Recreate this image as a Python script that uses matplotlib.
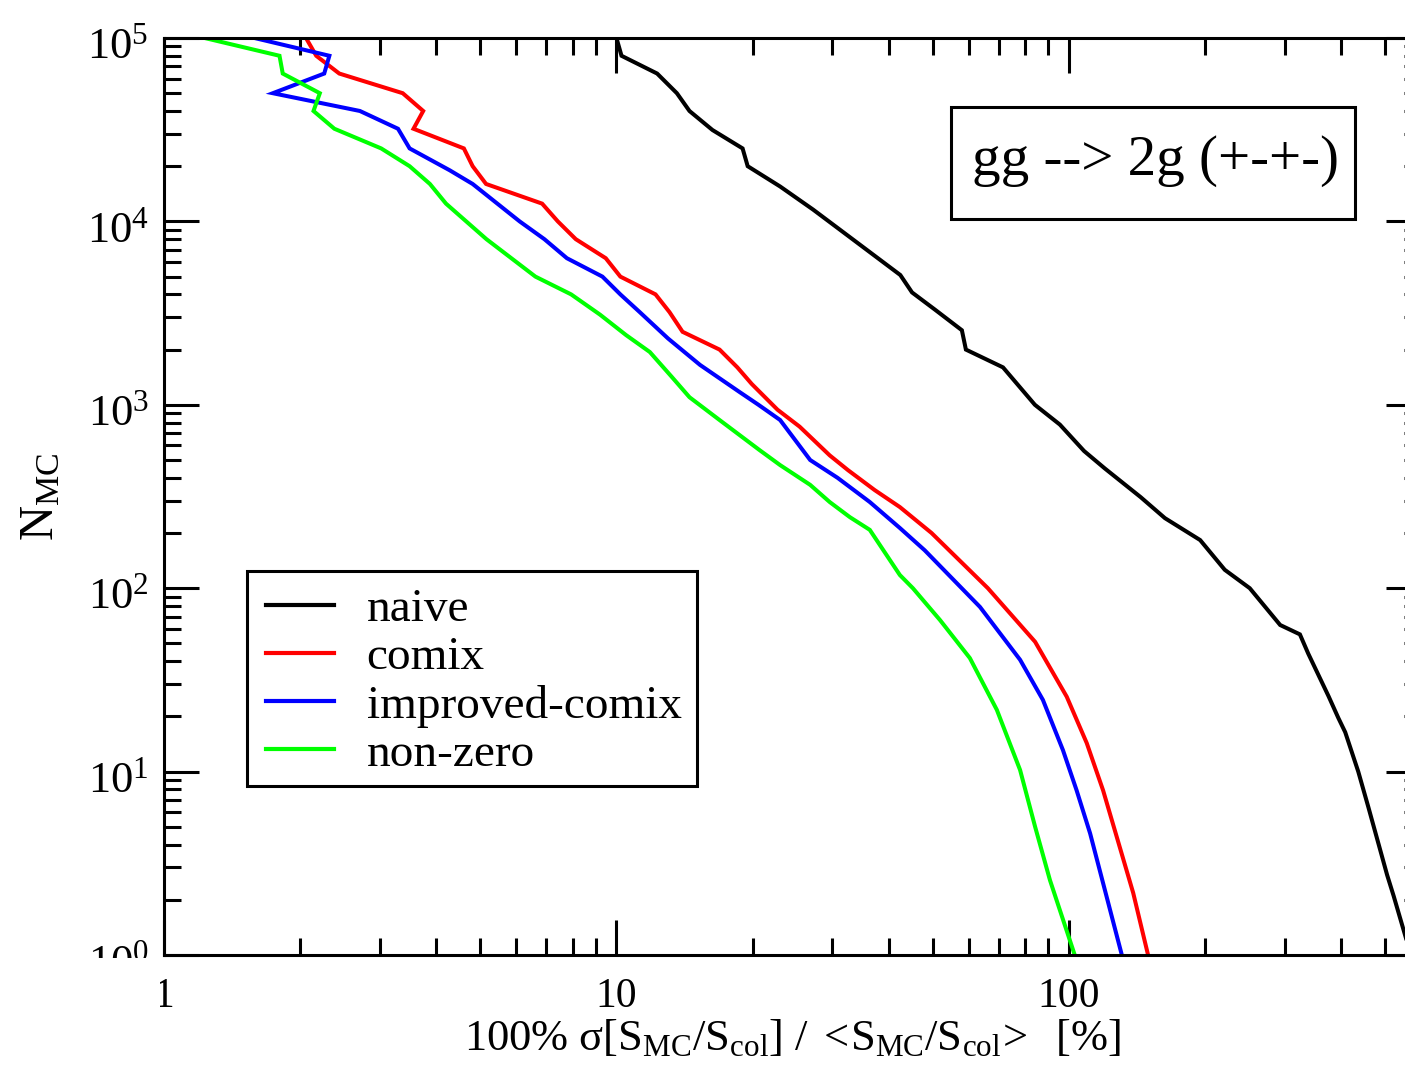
import numpy as np
import matplotlib
matplotlib.use("Agg")
import matplotlib.pyplot as plt
from matplotlib.ticker import LogLocator, FixedLocator, FixedFormatter, NullFormatter
from matplotlib.patches import Rectangle
from matplotlib.lines import Line2D
from matplotlib.transforms import ScaledTranslation

plt.rcParams["font.family"] = ["Liberation Serif", "DejaVu Serif"]
plt.rcParams["mathtext.fontset"] = "custom"
plt.rcParams["mathtext.rm"] = "Liberation Serif"
plt.rcParams["mathtext.it"] = "Liberation Serif:italic"
plt.rcParams["mathtext.bf"] = "Liberation Serif:bold"

# relative spread [%] vs. number of Monte Carlo points
naive_x = [10.0, 10.26, 12.3, 13.6, 14.5, 16.3, 19.0, 19.5, 23.0, 27.2, 31.2, 36.3, 42.4,
           45.0, 50.6, 58.0, 59.2, 71.5, 84.1, 95.5, 108, 120, 144, 163, 195, 221, 251,
           293, 324, 338, 375, 394, 408, 436, 459, 505, 522, 551, 570]
naive_n = [1e5, 80000, 64000, 50000, 40000, 31500, 25000, 20000, 15500, 11600, 9000, 6800, 5100,
           4100, 3300, 2550, 2000, 1600, 1000, 780, 560, 450, 314, 241, 183, 126, 100,
           63, 56, 44, 25.7, 19.6, 16.4, 10.0, 6.4, 2.73, 2.1, 1.33, 1.0]

comix_x = [2.06, 2.17, 2.44, 3.37, 3.74, 3.56, 4.60, 4.81, 5.15, 6.85, 7.42, 8.13, 9.47, 10.2,
           12.2, 13.1, 14.0, 16.9, 18.5, 19.9, 22.7, 25.4, 29.6, 32.5, 37.2, 42.3, 49.7,
           66.2, 84.2, 98.9, 109.5, 119, 138.7, 149.6]
comix_n = [1e5, 80000, 64000, 50000, 40000, 32000, 25000, 20000, 16000, 12500, 10000, 8000, 6300, 5000,
           4000, 3200, 2500, 2000, 1600, 1300, 940, 760, 530, 440, 343, 277, 200,
           100, 51, 25.6, 14.3, 7.9, 2.18, 1.0]

improved_x = [1.585, 2.32, 2.26, 1.74, 2.71, 3.29, 3.49, 4.28, 4.81, 6.11, 6.93, 7.77, 9.31, 10.2,
              11.26, 13.0, 15.3, 18.7, 20.6, 23.0, 26.8, 30.8, 36.3, 42.3, 48.0,
              63.6, 78.0, 87.6, 97.0, 104, 111.4, 130.9]
improved_n = [1e5, 80000, 64000, 50000, 40000, 32000, 25000, 19000, 16000, 10000, 8000, 6300, 5000, 4000,
              3200, 2300, 1650, 1175, 1000, 826, 500, 400, 295, 213, 161,
              79, 40.7, 24.6, 13.1, 7.9, 4.6, 1.0]

nonzero_x = [1.23, 1.80, 1.83, 2.21, 2.14, 2.38, 3.02, 3.49, 3.87, 4.20, 5.16, 6.62, 7.94,
             9.2, 10.5, 11.85, 13.25, 14.5, 16.9, 20.7, 23.0, 26.8, 29.6, 32.8, 36.3,
             42.3, 45.2, 51.9, 60.4, 69.3, 78.0, 84.2, 90.8, 103]
nonzero_n = [1e5, 80000, 64000, 50000, 40000, 32000, 25000, 20000, 16000, 12500, 8000, 5000, 4000,
             3100, 2400, 1940, 1420, 1100, 826, 567, 469, 366, 295, 244, 208,
             118, 100, 67, 41.6, 21.7, 10.2, 5.0, 2.56, 1.0]

series = [
    ("naive", naive_x, naive_n, "black"),
    ("comix", comix_x, comix_n, "#ff0000"),
    ("improved-comix", improved_x, improved_n, "#0000ff"),
    ("non-zero", nonzero_x, nonzero_n, "#00ff00"),
]

W, H = 1405, 1068
fig = plt.figure(figsize=(W / 100, H / 100), dpi=100)
left, right, top, bottom = 164, 1421, 38, 955
ax = fig.add_axes([left / W, 1 - bottom / H, (right - left) / W, (bottom - top) / H])

for label, xs, ns, color in series:
    ax.plot(xs, ns, color=color, lw=2.9, label=label, solid_joinstyle="miter")

ax.set_xscale("log")
ax.set_yscale("log")
ax.set_xlim(1, 600)
ax.set_ylim(1, 1e5)

ax.xaxis.set_major_locator(FixedLocator([1, 10, 100]))
ax.xaxis.set_major_formatter(FixedFormatter(["1", "10", "100"]))
ax.xaxis.set_minor_locator(LogLocator(base=10, subs=np.arange(2, 10), numticks=20))
ax.xaxis.set_minor_formatter(NullFormatter())
ax.yaxis.set_major_locator(LogLocator(base=10, numticks=10))
ax.yaxis.set_minor_locator(LogLocator(base=10, subs=np.arange(2, 10), numticks=20))
ax.yaxis.set_minor_formatter(NullFormatter())

for s in ax.spines.values():
    s.set_linewidth(2.2)
ax.tick_params(which="both", direction="in", top=True, right=True, width=2.2)
ax.tick_params(which="major", length=25)
ax.tick_params(which="minor", length=12.5)
ax.tick_params(axis="x", which="major", pad=16, labelsize=30)
ax.tick_params(axis="y", which="major", pad=11, labelsize=32)
shift = ScaledTranslation(0, -5 / 100, fig.dpi_scale_trans)
for lab in ax.get_yticklabels():
    lab.set_transform(lab.get_transform() + shift)

ax.set_xlabel(r"100% $\mathrm{\sigma[S_{MC}/S_{col}]\ /\ <\!S_{MC}/S_{col}\!>}$  [%]",
              fontsize=32, labelpad=2)
ax.set_ylabel(r"$\mathrm{N_{MC}}$", fontsize=35, labelpad=17)

# legend: entries drawn without frame, frame drawn as a separate box
handles = [Line2D([], [], color=c, lw=3.0) for _, _, _, c in series]
labels = [s[0] for s in series]
leg = fig.legend(handles, labels, loc="upper left",
                 bbox_to_anchor=(266 / W, 1 - 588 / H), bbox_transform=fig.transFigure,
                 fontsize=34, frameon=False, handlelength=1.45,
                 handletextpad=0.68, borderpad=0.0, labelspacing=0.11, borderaxespad=0)
fig.add_artist(Rectangle((247 / W, 1 - 786 / H), 450 / W, 215 / H, transform=fig.transFigure,
                         fc="none", ec="black", lw=2.2, zorder=5))

# process label box
fig.add_artist(Rectangle((951 / W, 1 - 219 / H), 404 / W, 112 / H, transform=fig.transFigure,
                         fc="white", ec="black", lw=2.2, zorder=5))
fig.text(1155 / W, 1 - 161 / H, "gg --> 2g (+-+-)", fontsize=41,
         ha="center", va="center", zorder=6)

# hide the lower part of the 10^0 label
fig.add_artist(Rectangle((0, 0), 160 / W, 1 - 958 / H, transform=fig.transFigure,
                         fc="white", ec="none", zorder=10))

fig.savefig("out.png", dpi=100)
